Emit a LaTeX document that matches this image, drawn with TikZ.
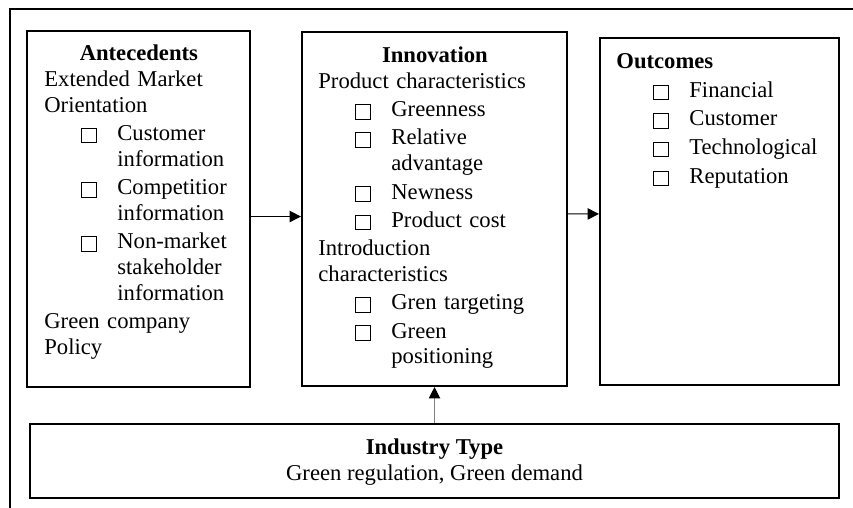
\documentclass[tikz,border=0pt]{standalone}
\usepackage{fontspec}
\setmainfont{Liberation Serif}
\usetikzlibrary{arrows.meta}
\usetikzlibrary{positioning}

\newlength{\px}\setlength{\px}{0.53pt}
\newcommand{\chkbox}{\raisebox{-1pt}{\setlength{\fboxsep}{0pt}\setlength{\fboxrule}{0.5pt}\fbox{\rule{0pt}{7.2pt}\hspace{7.2pt}}}}
\newcommand{\itm}{\hspace*{19.6pt}\makebox[19.1pt][l]{\chkbox}}
\newcommand{\cnt}{\hspace*{38.7pt}}

\begin{document}
\begin{tikzpicture}[x=0.53pt,y=-0.53pt,
  panel/.style={draw,line width=1.1pt,inner sep=0pt},
  txt/.style={inner sep=0pt,anchor=north west,align=left,font=\fontsize{12}{13.7}\selectfont},
  arr/.style={line width=0.6pt,-{Triangle[length=6pt,width=6pt]}}]
  \useasboundingbox (0,0) rectangle (853,508);
  % frame
  \draw[line width=1.1pt] (10,508) -- (10,9) -- (853,9);
  \node[panel,minimum width=223*\px,minimum height=356*\px] (ante) at (138.5,209) {};
  \node[panel,minimum width=265*\px,minimum height=354*\px] (innov) at (434.5,209) {};
  \node[panel,minimum width=239*\px,minimum height=347*\px] (outc) at (719.5,211.5) {};
  \node[panel,minimum width=809*\px,minimum height=74*\px] (indus) at (434.5,461) {};
  % texts
  \node[txt,text width=189*\px] (antetxt) at (44,42) {\strut\makebox[\linewidth]{\bfseries Antecedents}\\
    Extended Market\\
    Orientation\\[1.3pt]
    \itm Customer\\
    \cnt information\\[1.3pt]
    \itm Competitior\\
    \cnt information\\[1.3pt]
    \itm Non-market\\
    \cnt stakeholder\\
    \cnt information\\[1.3pt]
    Green company\\
    Policy};
  \node[txt,text width=233*\px] (innovtxt) at (318,44) {\strut\makebox[\linewidth]{\bfseries Innovation}\\
    Product characteristics\\[1.3pt]
    \itm Greenness\\[1.3pt]
    \itm Relative\\
    \cnt advantage\\[1.3pt]
    \itm Newness\\[1.3pt]
    \itm Product cost\\[1.3pt]
    Introduction\\
    characteristics\\[1.3pt]
    \itm Gren targeting\\[1.3pt]
    \itm Green\\
    \cnt positioning};
  \node[txt,text width=210*\px] (outctxt) at (616,50) {\strut\textbf{Outcomes}\\[1.5pt]
    \itm Financial\\[1.5pt]
    \itm Customer\\[1.5pt]
    \itm Technological\\[1.5pt]
    \itm Reputation};
  \node[inner sep=0pt,align=center,font=\fontsize{12}{13.7}\selectfont] (indtxt) at ([yshift=-0.4pt]indus.center) {\textbf{Industry Type}\\Green regulation, Green demand};
  % arrows
  \draw[arr] ([yshift=-4pt]ante.east) -- ([yshift=-4pt]innov.west);
  \draw[arr] ([yshift=-2.6pt]innov.east) -- ([yshift=-1.3pt]outc.west);
  \draw[arr,draw=gray,-{Triangle[length=6pt,width=6pt,color=black]}] (indus.north) -- (innov.south);
\end{tikzpicture}
\end{document}
